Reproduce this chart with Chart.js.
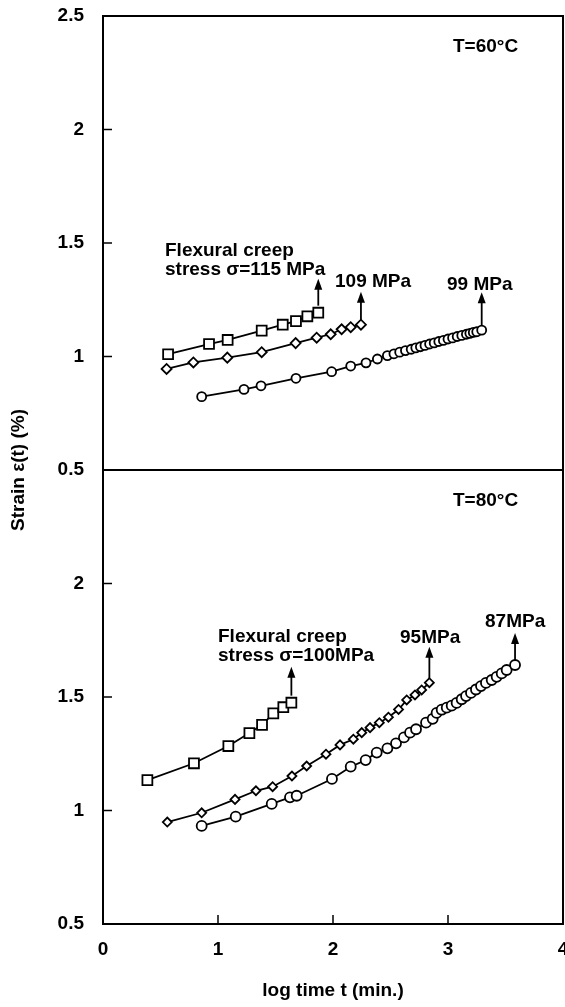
<!DOCTYPE html>
<html>
<head>
<meta charset="utf-8">
<script src="https://cdn.jsdelivr.net/npm/chart.js@4.4.1/dist/chart.umd.min.js"></script>
<style>
  html, body { margin: 0; padding: 0; background: #fff; }
  #wrap { position: relative; width: 565px; height: 1007px; }
  #wrap canvas { position: absolute; left: 0; top: 0; }
</style>
</head>
<body>
<div id="wrap">
  <canvas id="topChart" width="565" height="1007"></canvas>
  <canvas id="botChart" width="565" height="1007"></canvas>
</div>
<script>
// ---- data (x = log time, y = strain %) ----
// T = 60°C
const sq115X = [0.566, 0.922, 1.084, 1.380, 1.563, 1.678, 1.777, 1.872];
const sq115Y = [1.010, 1.055, 1.073, 1.114, 1.140, 1.156, 1.177, 1.193];
const di109X = [0.553, 0.786, 1.081, 1.380, 1.675, 1.858, 1.980, 2.075, 2.154, 2.243];
const di109Y = [0.945, 0.974, 0.995, 1.019, 1.059, 1.083, 1.098, 1.120, 1.129, 1.140];
const ci99X = [0.858, 1.226, 1.374, 1.678, 1.988, 2.154, 2.287, 2.386, 2.473, 2.53, 2.58, 2.63,
  2.68, 2.72, 2.76, 2.80, 2.84, 2.88, 2.92, 2.96, 3.00, 3.04, 3.08, 3.12, 3.16, 3.19, 3.22, 3.25, 3.293];
const ci99Y = [0.823, 0.855, 0.871, 0.904, 0.933, 0.958, 0.972, 0.989, 1.004, 1.012, 1.019, 1.026,
  1.032, 1.038, 1.043, 1.049, 1.055, 1.060, 1.066, 1.071, 1.077, 1.082, 1.088, 1.093, 1.098, 1.102, 1.106, 1.109, 1.116];

// T = 80°C
const sq100X = [0.386, 0.791, 1.090, 1.273, 1.383, 1.481, 1.568, 1.638];
const sq100Y = [1.134, 1.208, 1.284, 1.341, 1.377, 1.428, 1.455, 1.475];
const di95X = [0.559, 0.858, 1.148, 1.330, 1.475, 1.643, 1.771, 1.939, 2.061, 2.177, 2.250, 2.322,
  2.403, 2.482, 2.570, 2.641, 2.713, 2.771, 2.838];
const di95Y = [0.949, 0.990, 1.049, 1.087, 1.105, 1.152, 1.196, 1.248, 1.289, 1.314, 1.343, 1.365,
  1.387, 1.411, 1.445, 1.487, 1.509, 1.531, 1.563];
const ci87X = [0.858, 1.154, 1.467, 1.626, 1.684, 1.991, 2.154, 2.284, 2.380, 2.473, 2.548, 2.617,
  2.670, 2.722, 2.809, 2.867, 2.901, 2.945, 2.989, 3.032, 3.075, 3.119, 3.157, 3.200, 3.243, 3.287,
  3.330, 3.380, 3.423, 3.467, 3.510, 3.583];
const ci87Y = [0.932, 0.973, 1.029, 1.058, 1.065, 1.139, 1.193, 1.222, 1.255, 1.274, 1.296, 1.322,
  1.343, 1.358, 1.387, 1.404, 1.430, 1.444, 1.453, 1.462, 1.474, 1.490, 1.504, 1.518, 1.533, 1.548,
  1.562, 1.575, 1.589, 1.604, 1.619, 1.641];

const yTicks = [0.5, 1, 1.5, 2, 2.5];
const xTicks = [0, 1, 2, 3, 4];

const FONT = '"Liberation Sans", Arial, Helvetica, sans-serif';
const W = 565, H = 1007;
const LEFT = 103, PANEL_TOP = 16, MID = 470, BOTTOM = 924;

function pts(xs, ys) {
  return xs.map((x, i) => ({ x, y: ys[i] }));
}

function series(xs, ys, style, radius) {
  return {
    data: pts(xs, ys),
    borderColor: "#000",
    borderWidth: 1.8,
    backgroundColor: "#fff",
    pointStyle: style,
    pointRadius: radius,
    pointBorderWidth: 1.8,
    pointBackgroundColor: "#fff",
    pointBorderColor: "#000",
    tension: 0,
    showLine: true,
    clip: false
  };
}

function drawArrow(ctx, x, yStart, yTip) {
  ctx.beginPath();
  ctx.moveTo(x, yStart);
  ctx.lineTo(x, yTip + 8);
  ctx.stroke();
  ctx.beginPath();
  ctx.moveTo(x, yTip);
  ctx.lineTo(x - 4, yTip + 11);
  ctx.lineTo(x + 4, yTip + 11);
  ctx.closePath();
  ctx.fill();
}

// frame, inward ticks, arrows and the text notes of one panel
function panelPlugin(cfg) {
  return {
    id: "panel",
    beforeDatasetsDraw(chart) {
      const { ctx, chartArea: a, scales } = chart;
      ctx.save();
      ctx.strokeStyle = "#000";
      ctx.lineWidth = 2;
      ctx.strokeRect(a.left, a.top, a.right - a.left, a.bottom - a.top);
      ctx.lineWidth = 1.5;
      [1, 1.5, 2].forEach((v) => {
        const y = scales.y.getPixelForValue(v);
        ctx.beginPath();
        ctx.moveTo(a.left, y);
        ctx.lineTo(a.left + 9, y);
        ctx.stroke();
      });
      if (cfg.xTicks) {
        [1, 2, 3].forEach((v) => {
          const x = scales.x.getPixelForValue(v);
          ctx.beginPath();
          ctx.moveTo(x, a.bottom);
          ctx.lineTo(x, a.bottom - 9);
          ctx.stroke();
        });
      }
      ctx.restore();
    },
    afterDatasetsDraw(chart) {
      const { ctx } = chart;
      ctx.save();
      ctx.strokeStyle = "#000";
      ctx.fillStyle = "#000";
      ctx.lineWidth = 1.8;
      cfg.arrows.forEach((ar) => {
        const meta = chart.getDatasetMeta(ar.ds);
        const p = meta.data[meta.data.length - 1];
        const r = chart.data.datasets[ar.ds].pointRadius;
        drawArrow(ctx, p.x, p.y - r, p.y - ar.len);
      });
      ctx.font = "bold 19px " + FONT;
      ctx.textAlign = "left";
      ctx.textBaseline = "alphabetic";
      cfg.notes.forEach((n) => ctx.fillText(n.text, n.x, n.y));
      if (cfg.yTitle) {
        ctx.translate(19, MID);
        ctx.rotate(-Math.PI / 2);
        ctx.textAlign = "center";
        ctx.textBaseline = "middle";
        ctx.font = "bold 19px " + FONT;
        ctx.fillText(cfg.yTitle, 0, 0);
      }
      ctx.restore();
    }
  };
}

function yScale(hideTop) {
  return {
    type: "linear",
    min: 0.5,
    max: 2.5,
    afterBuildTicks: (s) => { s.ticks = yTicks.map((v) => ({ value: v })); },
    grid: { display: false, drawTicks: false },
    border: { display: false },
    ticks: {
      color: "#000",
      padding: 19,
      font: { family: FONT, size: 19, weight: "bold" },
      callback: (v) => (hideTop && v === 2.5 ? "" : String(v))
    },
    afterFit: (s) => {
      s.width = LEFT;
      s.paddingTop = 0;
      s.paddingBottom = 0;
    }
  };
}

function baseOptions() {
  return {
    responsive: false,
    animation: false,
    events: [],
    plugins: { legend: { display: false }, tooltip: { enabled: false } }
  };
}

// top panel, T = 60°C
const topOpts = baseOptions();
topOpts.layout = { autoPadding: false, padding: { top: PANEL_TOP, bottom: H - MID, left: 0, right: W - 563 } };
topOpts.scales = {
  x: { type: "linear", min: 0, max: 4, display: false },
  y: yScale(false)
};
new Chart(document.getElementById("topChart"), {
  type: "scatter",
  data: {
    datasets: [
      series(sq115X, sq115Y, "rect", 7),
      series(di109X, di109Y, "rectRot", 5),
      series(ci99X, ci99Y, "circle", 4.5)
    ]
  },
  options: topOpts,
  plugins: [panelPlugin({
    xTicks: false,
    arrows: [{ ds: 0, len: 34 }, { ds: 1, len: 33 }, { ds: 2, len: 38 }],
    notes: [
      { text: "T=60°C", x: 453, y: 52 },
      { text: "Flexural creep", x: 165, y: 256 },
      { text: "stress σ=115 MPa", x: 165, y: 275 },
      { text: "109 MPa", x: 335, y: 287 },
      { text: "99 MPa", x: 447, y: 290 }
    ]
  })]
});

// bottom panel, T = 80°C
const botOpts = baseOptions();
botOpts.layout = { autoPadding: false, padding: { top: MID, bottom: 0, left: 0, right: W - 563 } };
botOpts.scales = {
  x: {
    type: "linear",
    min: 0,
    max: 4,
    afterBuildTicks: (s) => { s.ticks = xTicks.map((v) => ({ value: v })); },
    grid: { display: false, drawTicks: false },
    border: { display: false },
    ticks: {
      color: "#000",
      padding: 14,
      maxRotation: 0,
      font: { family: FONT, size: 19, weight: "bold" }
    },
    title: {
      display: true,
      text: "log time t (min.)",
      color: "#000",
      padding: { top: 0, bottom: 5 },
      font: { family: FONT, size: 19, weight: "bold" }
    },
    afterFit: (s) => {
      s.height = H - BOTTOM;
      s.paddingLeft = 0;
      s.paddingRight = 0;
    }
  },
  y: yScale(true)
};
new Chart(document.getElementById("botChart"), {
  type: "scatter",
  data: {
    datasets: [
      series(sq100X, sq100Y, "rect", 7),
      series(di95X, di95Y, "rectRot", 4.5),
      series(ci87X, ci87Y, "circle", 5)
    ]
  },
  options: botOpts,
  plugins: [panelPlugin({
    xTicks: true,
    arrows: [{ ds: 0, len: 36 }, { ds: 1, len: 36 }, { ds: 2, len: 32 }],
    notes: [
      { text: "T=80°C", x: 453, y: 506 },
      { text: "Flexural creep", x: 218, y: 642 },
      { text: "stress σ=100MPa", x: 218, y: 661 },
      { text: "95MPa", x: 400, y: 643 },
      { text: "87MPa", x: 485, y: 627 }
    ],
    yTitle: "Strain ε(t) (%)"
  })]
});
</script>
</body>
</html>
